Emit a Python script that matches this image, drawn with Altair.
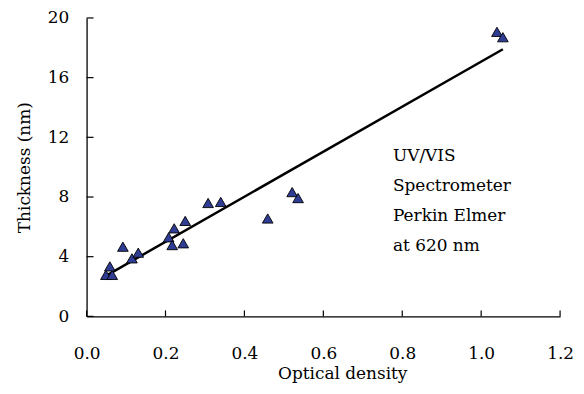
import altair as alt
import pandas as pd

# Data
optical_density = [0.049, 0.065, 0.059, 0.092, 0.115, 0.131, 0.208, 0.217, 0.222,
                   0.245, 0.250, 0.308, 0.340, 0.459, 0.521, 0.536, 1.040, 1.055]
thickness_nm = [2.78, 2.78, 3.35, 4.67, 3.89, 4.27, 5.30, 4.78, 5.90,
                4.90, 6.40, 7.60, 7.67, 6.56, 8.33, 7.93, 19.07, 18.71]
x_ticks = [0.0, 0.2, 0.4, 0.6, 0.8, 1.0, 1.2]
y_ticks = [0, 4, 8, 12, 16, 20]
note_text = "UV/VIS\nSpectrometer\nPerkin Elmer\nat 620 nm"

df = pd.DataFrame({"od": optical_density, "t": thickness_nm})
xt = pd.DataFrame({"v": x_ticks})
yt = pd.DataFrame({"v": y_ticks})

W, H = 476, 300
FONT = "DejaVu Serif"
FS = 17

xs = alt.Scale(domain=[0, 1.2], nice=False, zero=False)
ys = alt.Scale(domain=[0, 20], nice=False, zero=False)

x_axis = alt.Axis(values=x_ticks, format=".1f", ticks=False, grid=False,
                  domainColor="black", domainWidth=1.3, labelPadding=29,
                  title="Optical density", titleX=257, titleY=49,
                  titleAlign="center", labelFlush=False)
y_axis = alt.Axis(values=y_ticks, format="d", ticks=False, grid=False,
                  domainColor="black", domainWidth=1.3, labelPadding=18,
                  title="Thickness (nm)", titleX=-62, titleY=150,
                  titleAlign="center", titleBaseline="middle")

points = alt.Chart(df).mark_point(
    shape="triangle-up", filled=True, fill="#2F3C93", stroke="black",
    strokeWidth=0.9, size=115, opacity=1
).encode(
    x=alt.X("od:Q", scale=xs, axis=x_axis),
    y=alt.Y("t:Q", scale=ys, axis=y_axis),
)

fit = alt.Chart(df).transform_regression("od", "t").mark_line(
    color="black", strokeWidth=2.5
).encode(
    x=alt.X("od:Q", scale=xs),
    y=alt.Y("t:Q", scale=ys),
)

xtick_marks = alt.Chart(xt).mark_rule(color="black", strokeWidth=1.2).encode(
    x=alt.X("v:Q", scale=xs), y=alt.value(H), y2=alt.value(H - 6)
)
ytick_marks = alt.Chart(yt).mark_rule(color="black", strokeWidth=1.2).encode(
    y=alt.Y("v:Q", scale=ys), x=alt.value(0), x2=alt.value(7)
)

note = alt.Chart(pd.DataFrame({"txt": [note_text]})).mark_text(
    align="left", baseline="top", lineBreak="\n", lineHeight=30,
    font=FONT, fontSize=FS, color="black"
).encode(x=alt.value(308), y=alt.value(131), text="txt:N")

chart = alt.layer(fit, xtick_marks, ytick_marks, points, note).properties(
    width=W, height=H,
    autosize=alt.AutoSizeParams(type="none"),
    padding={"left": 79, "top": 9, "right": 16, "bottom": 76},
).configure_view(stroke=None).configure_axis(
    labelFont=FONT, labelFontSize=FS, labelColor="black",
    titleFont=FONT, titleFontSize=FS, titleColor="black", titleFontWeight="normal",
)

chart.save("out.html", embed_options={"renderer": "svg", "actions": False})
